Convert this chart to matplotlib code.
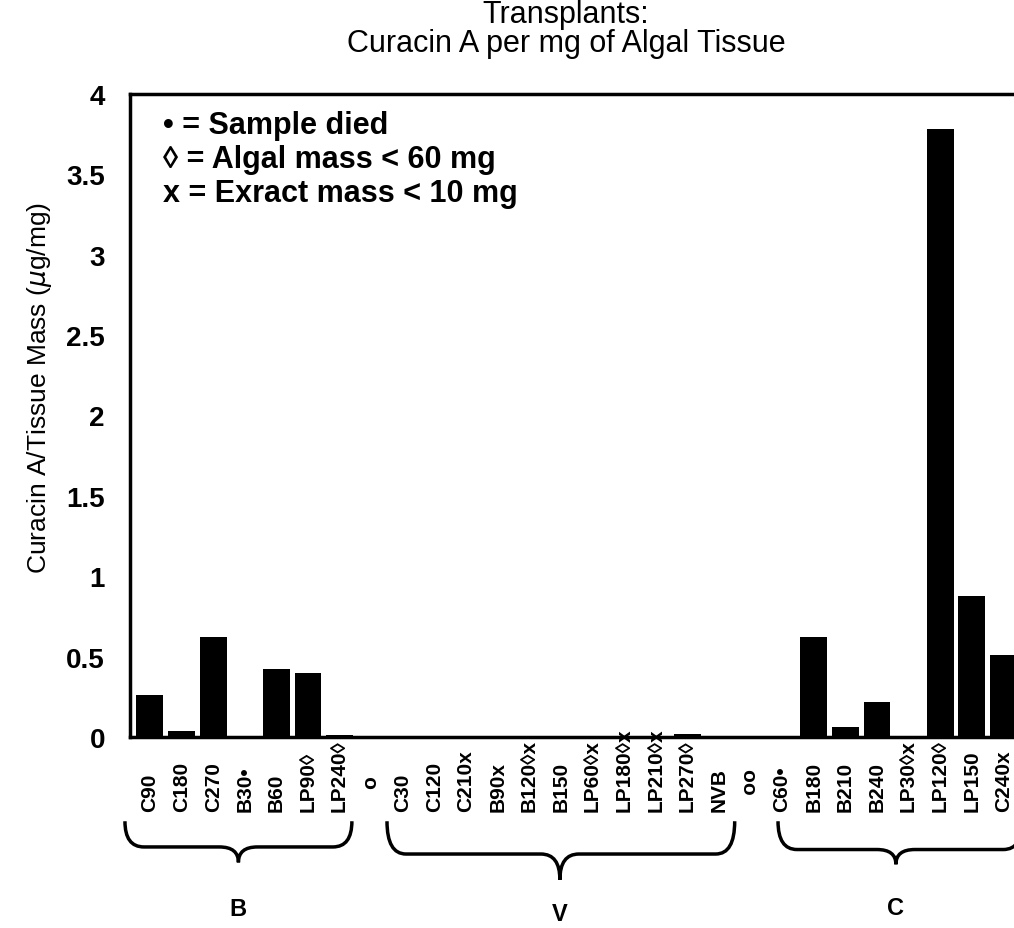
import numpy as np
import matplotlib
matplotlib.use("Agg")
import matplotlib.pyplot as plt
from matplotlib.path import Path
from matplotlib.patches import PathPatch
import matplotlib.transforms as mtransforms

plt.rcParams['font.family'] = ['Liberation Sans', 'DejaVu Sans']

labels = ["C90", "C180", "C270", "B30•", "B60", "LP90◊", "LP240◊", "    o",
          "C30", "C120", "C210x", "B90x", "B120◊x", "B150", "LP60◊x", "LP180◊x",
          "LP210◊x", "LP270◊", "NVB", "   oo",
          "C60•", "B180", "B210", "B240", "LP30◊x", "LP120◊", "LP150", "C240x"]
values = [0.26, 0.04, 0.62, 0.0, 0.42, 0.40, 0.01, 0.0,
          0.0, 0.0, 0.0, 0.0, 0.0, 0.0, 0.0, 0.0,
          0.0, 0.02, 0.0, 0.0,
          0.0, 0.62, 0.06, 0.22, 0.0, 3.78, 0.88, 0.51]
groups = ["B", "V", "C"]
# brace spans in category units: (left, tip, right)
spans = [(-0.79, 2.8, 6.39), (7.5, 12.97, 18.5), (19.87, 23.6, 27.6)]
yticks = [0, 0.5, 1, 1.5, 2, 2.5, 3, 3.5, 4]

W, H = 1014, 929
fig = plt.figure(figsize=(W / 100, H / 100), dpi=100)
ax = fig.add_axes([130 / W, (H - 738) / H, 905 / W, 643 / H])

x = np.arange(len(labels))
ax.bar(x, values, width=0.85, color='black')
ax.set_xlim(-0.63, 28.0)
ax.set_ylim(0, 4)
ax.set_yticks(yticks)
ax.set_yticklabels([('%g' % v) for v in yticks], fontsize=20, fontweight='bold')
ax.tick_params(axis='y', length=0, pad=18)
ax.set_xticks([])
for s in ['left', 'top', 'bottom']:
    ax.spines[s].set_linewidth(2.5)
ax.spines['right'].set_visible(False)

fig.text(40 / W, 1 - 388 / H, r'Curacin A/Tissue Mass ($\mu$g/mg)', rotation=90,
         ha='center', va='center', fontsize=19)

trans = mtransforms.blended_transform_factory(ax.transData, ax.transAxes)
for i, lab in enumerate(labels):
    ax.text(i, -0.115, lab, rotation=90, ha='center', va='bottom',
            fontsize=15, fontweight='bold', transform=trans, clip_on=False)

def brace(x0, xt, x1, ytop, ymid, ybot):
    r = 0.6
    verts = [(x0, ytop), (x0, ymid), (x0 + r, ymid),
             (xt - r, ymid), (xt, ymid), (xt, ybot),
             (xt, ymid), (xt + r, ymid),
             (x1 - r, ymid), (x1, ymid), (x1, ytop)]
    codes = [Path.MOVETO, Path.CURVE3, Path.CURVE3,
             Path.LINETO, Path.CURVE3, Path.CURVE3,
             Path.CURVE3, Path.CURVE3,
             Path.LINETO, Path.CURVE3, Path.CURVE3]
    p = PathPatch(Path(verts, codes), fill=False, lw=2.5, color='black',
                  transform=trans, clip_on=False)
    ax.add_patch(p)

brace_y = [(-0.131, -0.171, -0.195), (-0.131, -0.182, -0.222), (-0.131, -0.175, -0.198)]
label_y = [-0.267, -0.275, -0.265]
for g, (x0, xt, x1), (yt, ym, yb), ly in zip(groups, spans, brace_y, label_y):
    brace(x0, xt, x1, yt, ym, yb)
    ax.text(xt, ly, g, ha='center', va='center', fontsize=17, fontweight='bold',
            transform=trans, clip_on=False)

fig.text(566 / W, 1 - 15 / H, 'Transplants:', ha='center', va='center', fontsize=22)
fig.text(566 / W, 1 - 44 / H, 'Curacin A per mg of Algal Tissue', ha='center',
         va='center', fontsize=22)

leg = ["• = Sample died", "◊ = Algal mass < 60 mg", "x = Exract mass < 10 mg"]
for k, t in enumerate(leg):
    fig.text(163 / W, 1 - (126 + 34 * k) / H, t, ha='left', va='center',
             fontsize=22, fontweight='bold')

fig.savefig('out.png', dpi=100)
